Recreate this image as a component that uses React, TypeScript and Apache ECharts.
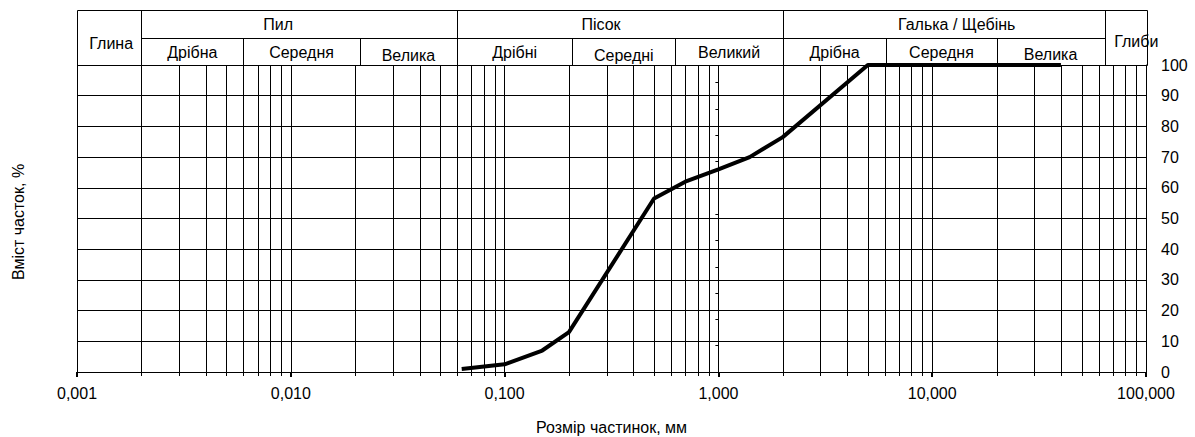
import React, { useEffect, useRef } from "react";
import * as echarts from "echarts";

// Particle size distribution (sieve sizes, mm) and cumulative passing (%)
const sizesMm = [0.063, 0.1, 0.15, 0.2, 0.5, 0.7, 1, 1.4, 2, 5, 40];
const passingPct = [1, 2.5, 7, 13, 56.5, 62, 66, 70, 76.5, 100, 100];

// Axis ranges / tick grid
const xMinMm = 0.001;
const xMaxMm = 100;
const decadesMm = [0.001, 0.01, 0.1, 1, 10];
const minorMultipliers = [2, 3, 4, 5, 6, 7, 8, 9];

// Classification header
const groupNames = ["Пил", "Пісок", "Галька / Щебінь"];
const groupBoundsMm = [0.002, 0.06, 2, 64];
const groupLabelDx = [-21, -19, 13];
const subNames = ["Дрібна", "Середня", "Велика", "Дрібні", "Середні", "Великий", "Дрібна", "Середня", "Велика"];
const subBoundsMm = [0.002, 0.006, 0.021, 0.06, 0.207, 0.63, 2, 6.1, 20, 64];
const subLabelDy = [0, 0, 3, 0, 3, 0, 0, 0, 2];
const clayName = "Глина";
const bouldersName = "Глиби";
const xAxisName = "Розмір частинок, мм";
const yAxisName = "Вміст часток, %";

const FONT = "'Liberation Sans', Arial, sans-serif";
const FS = 16;

export default function App() {
  const ref = useRef<HTMLDivElement>(null);

  useEffect(() => {
    if (!ref.current) return;
    const chart = echarts.init(ref.current, null, { renderer: "svg" });
    const minorGrid: number[][] = [];
    decadesMm.forEach((d) => minorMultipliers.forEach((m) => minorGrid.push([+(d * m).toPrecision(6), 0])));

    chart.setOption({
      animation: false,
      textStyle: { fontFamily: FONT, color: "#000" },
      grid: { left: 77, right: 49, top: 65, bottom: 65, containLabel: false, outerBoundsMode: "none" },
      xAxis: {
        type: "log",
        logBase: 10,
        min: xMinMm,
        max: xMaxMm,
        axisLine: { show: true, lineStyle: { color: "#000", width: 1 } },
        axisTick: { show: true, length: 5, lineStyle: { color: "#000", width: 2 } },
        axisLabel: {
          color: "#000",
          fontSize: FS,
          fontFamily: FONT,
          margin: 13,
          formatter: (v: number) => Number(v).toFixed(3).replace(".", ","),
        },
        splitLine: { show: true, lineStyle: { color: "#000", width: 1 } },
        name: xAxisName,
        nameLocation: "middle",
        nameGap: 47,
        nameTextStyle: { color: "#000", fontSize: FS, fontFamily: FONT },
      },
      yAxis: [
        {
          type: "value",
          min: 0,
          max: 100,
          interval: 10,
          position: "right",
          axisLine: { show: true, lineStyle: { color: "#000", width: 1 } },
          axisTick: { show: false },
          axisLabel: { color: "#000", fontSize: FS, fontFamily: FONT, margin: 15, padding: [5, 0, 0, 0] },
          splitLine: { show: true, lineStyle: { color: "#000", width: 1 } },
        },
        {
          type: "value",
          min: 0,
          max: 11.67,
          interval: 1,
          position: "left",
          offset: 0,
          axisLine: { show: false },
          axisTick: { show: true, length: 3, lineStyle: { color: "#000", width: 1 } },
          axisLabel: { show: false },
          splitLine: { show: false },
        },
      ],
      series: [
        {
          type: "custom",
          silent: true,
          clip: false,
          z: 1,
          xAxisIndex: 0,
          yAxisIndex: 0,
          encode: { x: 0, y: 1 },
          data: minorGrid,
          renderItem: (params: any, api: any) => {
            const v = api.value(0);
            const b = api.coord([v, 0]);
            const t = api.coord([v, 100]);
            const x = Math.round(b[0]) + 0.5;
            return {
              type: "line",
              shape: { x1: x, y1: t[1], x2: x, y2: b[1] + 4 },
              style: { stroke: "#000", lineWidth: 1 },
            };
          },
        },
        {
          type: "line",
          xAxisIndex: 0,
          yAxisIndex: 0,
          symbol: "none",
          showSymbol: false,
          z: 5,
          lineStyle: { color: "#000", width: 4 },
          data: sizesMm.map((s, i) => [s, passingPct[i]]),
        },
      ],
    });

    const px = (v: number) => (chart.convertToPixel({ gridIndex: 0 }, [v, 100]) as number[])[0];
    const r = (x: number) => Math.round(x) + 0.5;
    const yTop = 10.5, yMid = 38.5, yBot = 65.5;
    const xL = r(px(xMinMm));
    const xR = r(px(xMaxMm)) + 1;
    const line = (x1: number, y1: number, x2: number, y2: number) => ({
      type: "line",
      silent: true,
      shape: { x1, y1, x2, y2 },
      style: { stroke: "#000", lineWidth: 1 },
    });
    const text = (t: string, x: number, y: number, rotation = 0) => ({
      type: "text",
      silent: true,
      x,
      y,
      rotation,
      style: {
        text: t,
        fill: "#000",
        font: `${FS}px ${FONT}`,
        textAlign: "center",
        textVerticalAlign: "middle",
      },
    });

    const g: any[] = [];
    g.push(line(xL, yTop, xR, yTop));
    g.push(line(xL, yBot, xR, yBot));
    g.push(line(xL, yTop, xL, yBot));
    g.push(line(xR, yTop, xR, yBot));
    groupBoundsMm.forEach((b) => g.push(line(r(px(b)), yTop, r(px(b)), yBot)));
    g.push(line(r(px(groupBoundsMm[0])), yMid, r(px(groupBoundsMm[groupBoundsMm.length - 1])), yMid));
    subBoundsMm.forEach((b) => g.push(line(r(px(b)), yMid, r(px(b)), yBot)));
    groupNames.forEach((n, i) => {
      const cx = (px(groupBoundsMm[i]) + px(groupBoundsMm[i + 1])) / 2 + groupLabelDx[i];
      g.push(text(n, cx, 24));
    });
    subNames.forEach((n, i) => {
      const cx = (px(subBoundsMm[i]) + px(subBoundsMm[i + 1])) / 2;
      g.push(text(n, cx, 52 + subLabelDy[i]));
    });
    g.push(text(clayName, (px(xMinMm) + px(groupBoundsMm[0])) / 2 + 2, 43.5));
    g.push(text(bouldersName, (px(groupBoundsMm[3]) + px(xMaxMm)) / 2 + 11, 41.5));
    g.push(text(yAxisName, 18, 222, Math.PI / 2));

    chart.setOption({
      graphic: g,
      yAxis: [{}, { offset: -(px(1) - px(xMinMm)) }],
    });

    return () => chart.dispose();
  }, []);

  return (
    <div
      ref={ref}
      style={{ position: "absolute", left: 0, top: 0, width: 1195, height: 437 }}
    />
  );
}
